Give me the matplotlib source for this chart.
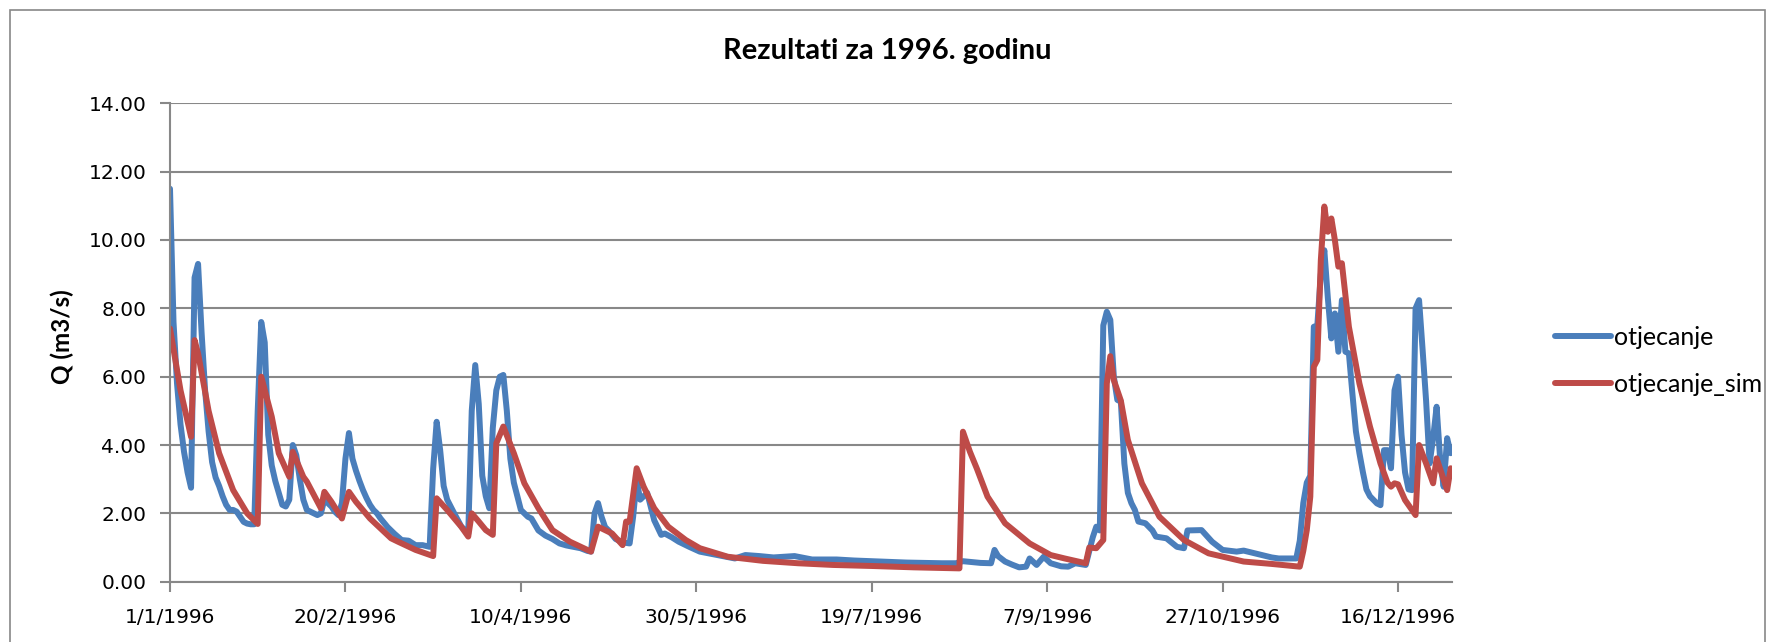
"""
Rezultati za 1996. godinu - measured vs simulated runoff
"""

import pandas as pd
import matplotlib
matplotlib.use("Agg")
import matplotlib.pyplot as plt
from matplotlib.patches import Rectangle

# day of year (0 = 1/1/1996) and discharge
obs_day = [0, 1, 2, 3, 4, 5, 6, 7, 8, 9, 10, 11, 12, 13, 14, 15, 16, 17, 18, 19,
           20, 21, 22, 23, 24, 25, 26, 27, 28, 29, 30, 31, 32, 33, 34, 35, 36, 37,
           38, 39, 40, 41, 42, 43, 44, 45, 46, 47, 48, 49, 50, 51, 52, 53, 54, 55,
           56, 57, 58, 59, 60, 62, 64, 66, 68, 70, 72, 74, 75, 76, 77, 78, 79, 81,
           83, 85, 86, 87, 88, 89, 90, 91, 92, 93, 94, 95, 96, 97, 98, 99, 100,
           102, 103, 105, 107, 109, 111, 113, 115, 117, 119, 120, 121, 122, 123,
           124, 125, 127, 129, 131, 132, 133, 134, 135, 136, 137, 138, 140, 141,
           143, 145, 148, 151, 156, 161, 164, 168, 172, 178, 183, 186, 190, 195,
           200, 205, 210, 215, 220, 224, 226, 228, 231, 234, 235, 236, 238, 240,
           242, 244, 245, 247, 249, 251, 254, 256, 258, 261, 262, 263, 264, 265,
           266, 267, 268, 269, 270, 271, 272, 273, 274, 275, 276, 278, 280, 281,
           284, 287, 289, 290, 294, 297, 300, 304, 306, 310, 314, 316, 318, 321,
           322, 323, 324, 325, 326, 327, 328, 329, 330, 331, 332, 333, 334, 335,
           336, 337, 338, 339, 340, 341, 342, 344, 345, 346, 347, 348, 349, 350,
           351, 352, 353, 354, 355, 356, 357, 358, 359, 360, 361, 362, 363, 364,
           365]
obs_q = [11.5, 7.6, 5.8, 4.6, 3.8, 3.2, 2.75, 8.9, 9.3, 7.3, 5.6, 4.4, 3.5, 3.05,
         2.8, 2.5, 2.25, 2.1, 2.1, 2.05, 1.9, 1.75, 1.7, 1.68, 1.68, 5.0, 7.6, 7.0,
         4.3, 3.4, 2.95, 2.6, 2.25, 2.2, 2.4, 4.0, 3.7, 3.0, 2.4, 2.1, 2.05, 2.0,
         1.95, 2.0, 2.4, 2.3, 2.2, 2.05, 1.95, 2.3, 3.6, 4.35, 3.6, 3.25, 2.95,
         2.68, 2.45, 2.25, 2.1, 2.0, 1.85, 1.6, 1.4, 1.22, 1.2, 1.07, 1.07, 1.02,
         3.3, 4.68, 3.85, 2.8, 2.4, 2.0, 1.62, 1.4, 5.0, 6.34, 5.2, 3.1, 2.5, 2.15,
         4.5, 5.6, 6.0, 6.05, 5.0, 3.6, 2.9, 2.5, 2.1, 1.9, 1.85, 1.5, 1.35, 1.25,
         1.12, 1.06, 1.02, 0.98, 0.9, 0.88, 2.0, 2.3, 1.9, 1.6, 1.5, 1.25, 1.15,
         1.12, 1.9, 2.98, 2.4, 2.5, 2.6, 2.2, 1.8, 1.37, 1.41, 1.3, 1.17, 1.02,
         0.88, 0.78, 0.68, 0.78, 0.75, 0.71, 0.75, 0.65, 0.65, 0.65, 0.62, 0.6,
         0.58, 0.56, 0.55, 0.54, 0.54, 0.6, 0.58, 0.55, 0.54, 0.93, 0.75, 0.59,
         0.5, 0.42, 0.44, 0.68, 0.49, 0.73, 0.54, 0.45, 0.44, 0.54, 0.49, 0.9, 1.3,
         1.61, 1.5, 7.5, 7.9, 7.66, 6.0, 5.32, 5.27, 3.46, 2.6, 2.3, 2.1, 1.76,
         1.71, 1.5, 1.32, 1.27, 1.02, 0.98, 1.5, 1.51, 1.17, 0.93, 0.88, 0.91,
         0.81, 0.71, 0.68, 0.68, 0.68, 1.2, 2.3, 2.9, 3.1, 7.46, 7.5, 9.0, 9.7,
         8.3, 7.12, 7.85, 6.73, 8.24, 6.73, 6.68, 5.5, 4.4, 3.76, 3.2, 2.7, 2.5,
         2.29, 2.24, 3.85, 3.85, 3.32, 5.6, 6.0, 4.3, 3.2, 2.7, 2.68, 8.0, 8.24,
         6.8, 5.3, 3.46, 4.2, 5.12, 3.6, 2.78, 4.2, 3.76]

sim_day = [0, 3, 6, 7, 8, 11, 14, 18, 22, 25, 26, 29, 31, 34, 35, 38, 39, 43, 44,
           46, 49, 51, 53, 57, 63, 65, 70, 75, 76, 79, 83, 85, 86, 88, 90, 92, 93,
           95, 98, 101, 105, 109, 114, 120, 122, 126, 129, 130, 131, 133, 135, 138,
           142, 147, 151, 159, 169, 179, 189, 200, 212, 225, 226, 228, 230, 233,
           238, 245, 251, 255, 261, 262, 264, 266, 267, 268, 269, 270, 271, 273,
           277, 282, 289, 296, 306, 314, 322, 323, 324, 325, 326, 327, 328, 329,
           330, 331, 332, 333, 334, 336, 339, 342, 345, 347, 348, 349, 350, 352,
           355, 356, 358, 360, 361, 364, 365]
sim_q = [7.41, 5.6, 4.24, 7.07, 6.68, 5.0, 3.76, 2.68, 2.0, 1.69, 6.0, 4.83, 3.76,
         3.07, 3.8, 3.07, 2.93, 2.15, 2.63, 2.34, 1.85, 2.63, 2.34, 1.85, 1.27,
         1.17, 0.93, 0.75, 2.44, 2.1, 1.61, 1.32, 2.0, 1.76, 1.51, 1.37, 4.05,
         4.54, 3.76, 2.88, 2.15, 1.51, 1.17, 0.88, 1.61, 1.41, 1.07, 1.76, 1.76,
         3.32, 2.78, 2.15, 1.61, 1.22, 0.98, 0.73, 0.61, 0.54, 0.49, 0.46, 0.42,
         0.39, 4.39, 3.8, 3.3, 2.49, 1.71, 1.12, 0.78, 0.68, 0.54, 1.0, 0.98, 1.22,
         5.8, 6.6, 5.9, 5.6, 5.3, 4.15, 2.88, 1.9, 1.22, 0.83, 0.59, 0.52, 0.44,
         0.9, 1.51, 2.49, 6.29, 6.49, 9.41, 10.98, 10.24, 10.63, 10.0, 9.22, 9.32,
         7.46, 5.8, 4.54, 3.46, 2.9, 2.78, 2.88, 2.85, 2.39, 1.95, 4.0, 3.46, 2.88,
         3.61, 2.68, 3.32]

y_ticks = [0, 2, 4, 6, 8, 10, 12, 14]

start = pd.Timestamp("1996-01-01")
obs_dates = start + pd.to_timedelta(obs_day, unit="D")
sim_dates = start + pd.to_timedelta(sim_day, unit="D")
x_ticks = pd.date_range(start, periods=8, freq="50D")

grid_col = "#888888"
blue = "#4a7ebb"
red = "#be4b48"

fig = plt.figure(figsize=(17.74, 6.42), dpi=100)
ax = fig.add_axes([170 / 1774, 1 - 581.7 / 642, (1451.7 - 170) / 1774, (581.7 - 103.3) / 642])

ax.plot(obs_dates, obs_q, color=blue, lw=4.3, solid_joinstyle="round",
        solid_capstyle="round", label="otjecanje")
ax.plot(sim_dates, sim_q, color=red, lw=4.3, solid_joinstyle="round",
        solid_capstyle="round", label="otjecanje_sim")

ax.set_xlim(start, start + pd.Timedelta(days=365.3))
ax.set_ylim(0, 14)
ax.set_yticks(y_ticks)
ax.set_yticklabels([f"{v:.2f}" for v in y_ticks], fontsize=14.5, family="DejaVu Sans")
ax.set_xticks(x_ticks)
ax.set_xticklabels([f"{d.day}/{d.month}/{d.year}" for d in x_ticks], fontsize=14.5,
                   family="DejaVu Sans")
ax.yaxis.grid(True, color=grid_col, lw=1.5)
ax.set_axisbelow(True)
for side in ["top", "right"]:
    ax.spines[side].set_visible(False)
for side in ["left", "bottom"]:
    ax.spines[side].set_color(grid_col)
    ax.spines[side].set_linewidth(1.5)
ax.tick_params(axis="y", direction="out", length=7, width=1.5, color=grid_col, pad=10)
ax.tick_params(axis="x", direction="out", length=7, width=1.5, color=grid_col, pad=12)

fig.text(62 / 1774, 1 - 337 / 642, "Q (m3/s)", rotation=90, ha="center", va="center",
         fontsize=17.5, fontweight="bold", family="Lato")
fig.text(0.5, 1 - 51 / 642, "Rezultati za 1996. godinu", ha="center", va="center",
         fontsize=21, fontweight="bold", family="Lato")

ax.legend(loc="center left", bbox_to_anchor=(1545 / 1774, 1 - 361 / 642),
          bbox_transform=fig.transFigure, frameon=False,
          prop={"family": "Lato", "size": 18}, handlelength=2.25, handletextpad=0.12,
          labelspacing=0.95, borderaxespad=0)

fig.patches.append(Rectangle((10 / 1774, -0.05), 1755 / 1774, 1 - 10 / 642 + 0.05,
                             transform=fig.transFigure, fill=False,
                             edgecolor=grid_col, lw=1.2))

fig.savefig("out.png", dpi=100)
